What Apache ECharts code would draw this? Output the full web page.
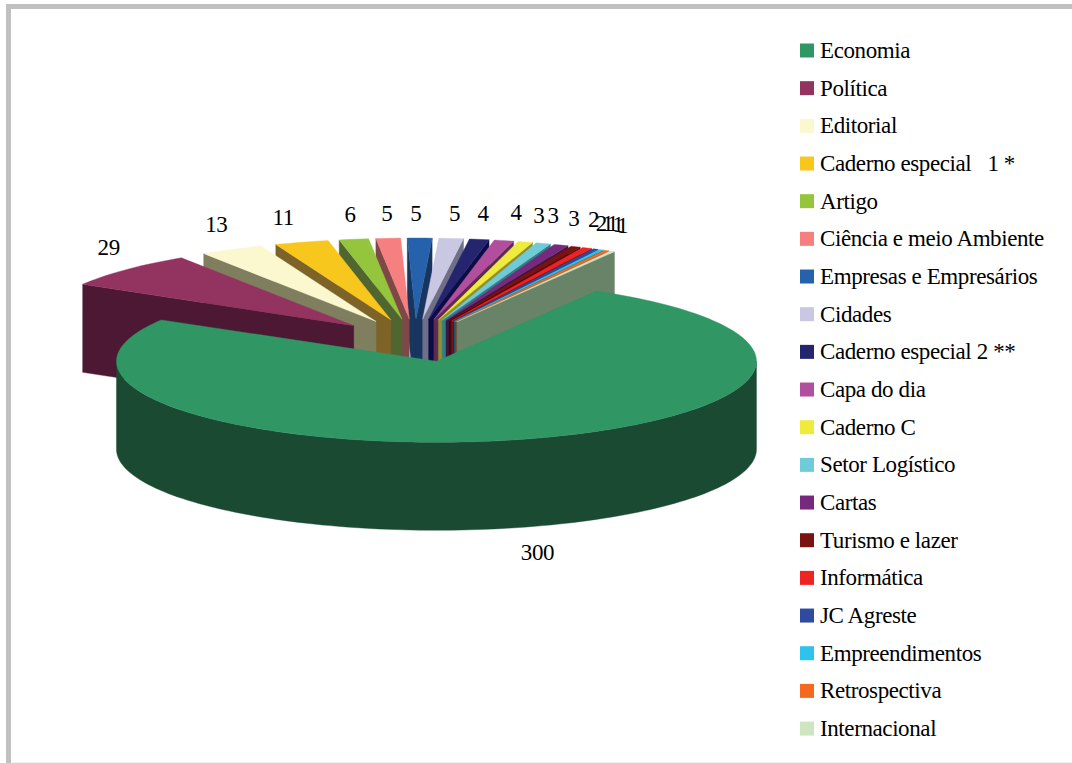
<!DOCTYPE html>
<html>
<head>
<meta charset="utf-8">
<style>
  html, body { margin: 0; padding: 0; background: #fff; }
  #chart { width: 1072px; height: 763px; letter-spacing: -0.4px; }
</style>
<script src="https://cdn.jsdelivr.net/npm/echarts@6/dist/echarts.min.js"></script>
</head>
<body>
<div id="chart"></div>
<script>
// Newspaper sections and number of articles per section
const categories = ['Economia', 'Política', 'Editorial', 'Caderno especial   1 *', 'Artigo',
  'Ciência e meio Ambiente', 'Empresas e Empresários', 'Cidades', 'Caderno especial 2 **',
  'Capa do dia', 'Caderno C', 'Setor Logístico', 'Cartas', 'Turismo e lazer', 'Informática',
  'JC Agreste', 'Empreendimentos', 'Retrospectiva', 'Internacional'];
const values = [300, 29, 13, 11, 6, 5, 5, 5, 4, 4, 3, 3, 3, 2, 2, 1, 1, 1, 1];

const topColors = ['#2f9664', '#93335f', '#fbf7cf', '#f7c71e', '#94c53c', '#f67f7f', '#2662ab',
  '#c9c7e2', '#24246f', '#b14f9e', '#efeb3c', '#6fcbd8', '#772a7d', '#7a1212', '#ef2224',
  '#2f4a9e', '#2fc2ee', '#f5681f', '#cde6c0'];
const sideColors = ['#1a4a32', '#4d1833', '#7f7f60', '#7d6327', '#4f6630', '#7f4848', '#17355f',
  '#6f6f88', '#0a0e45', '#5e2a55', '#8f8f2f', '#2f7f88', '#3f1642', '#420a0a', '#7f1213',
  '#192855', '#1a6a82', '#833810', '#688368'];

// Value label nudges relative to each slice's outer rim
const labelDx = [20, -14, -13, -17, -3, -1, -4, 3, 3, 11, 12, 8, 11, 16, 12, 10, 9, 9, 8];
const labelDy = [113, -22, -25, -25, -25, -25, -25, -25, -26, -28, -27, -28, -27, -27, -25, -26, -26, -26, -26];

// Projection of the tilted pie; the slices further back read slightly narrower
const CX = 415, CY = 340.5, RX = 320, RY = 81, DEPTH = 88, EXPLODE = 0.265, FIRST_ANGLE = 30, BACK_RIM = 0.985;

const total = values.reduce((a, b) => a + b, 0);
const rad = d => d * Math.PI / 180;
const starts = [];
values.reduce((acc, v, i) => { starts[i] = acc; return acc + v / total * 360; }, FIRST_ANGLE);

// Angles run clockwise from the back of the pie
const project = (ox, oy, r, deg, drop) => [
  ox + r * RX * Math.sin(rad(deg)),
  oy - r * RY * Math.cos(rad(deg)) + drop
];

function sliceGraphic(i, value) {
  const a0 = starts[i], a1 = a0 + value / total * 360, mid = (a0 + a1) / 2;
  const [ox, oy] = project(CX, CY, EXPLODE, mid, 0);
  const children = [];
  const side = sideColors[i];
  const rim = a1 - a0 < 180 ? BACK_RIM : 1;
  const rimPoint = (deg, drop) => {
    const p = project(ox, oy, 1, deg, drop);
    return [ox + (p[0] - ox) * rim, p[1]];
  };
  const add = (points, fill) => children.push({
    type: 'polygon', shape: { points }, style: { fill, stroke: fill, lineWidth: 0.4 }
  });
  const arc = (from, to, drop) => {
    const steps = Math.max(2, Math.ceil(Math.abs(to - from) / 1.5));
    const out = [];
    for (let s = 0; s <= steps; s++) out.push(rimPoint(from + (to - from) * s / steps, drop));
    return out;
  };
  const cutFace = deg => add([[ox, oy], rimPoint(deg, 0), rimPoint(deg, DEPTH), [ox, oy + DEPTH]], side);

  // Radial cut faces turned towards the viewer
  if (Math.sin(rad(a0)) < 0 && a1 - a0 < 180) cutFace(a0);
  if (Math.sin(rad(a1)) > 0 && a1 - a0 < 180) cutFace(a1);

  // Outer wall on the front half of the rim
  const wallFrom = Math.max(a0, 90), wallTo = Math.min(a1, 270);
  if (wallTo > wallFrom) add(arc(wallFrom, wallTo, 0).concat(arc(wallTo, wallFrom, DEPTH)), side);

  // Top face
  add([[ox, oy]].concat(arc(a0, a1, 0)), topColors[i]);

  // Value label
  const [lx, ly] = project(CX, CY, 1 + EXPLODE, mid, 0);
  children.push({
    type: 'text',
    z2: 50,
    style: {
      x: lx + labelDx[i], y: ly + labelDy[i], text: String(value),
      fill: '#000', font: '23px "Liberation Serif"', align: 'center', verticalAlign: 'middle'
    }
  });
  return { type: 'group', children };
}

// Paint from the back of the pie towards the viewer
const paintOrder = values.map((_, i) => i).sort((a, b) =>
  Math.cos(rad(starts[b] + values[b] / total * 180)) - Math.cos(rad(starts[a] + values[a] / total * 180)));

const chart = echarts.init(document.getElementById('chart'), null, { renderer: 'svg' });
chart.setOption({
  animation: false,
  backgroundColor: '#fff',
  graphic: [
    { type: 'rect', silent: true, shape: { x: 6, y: 4, width: 1066, height: 5 }, style: { fill: '#c0c0c0' } },
    { type: 'rect', silent: true, shape: { x: 6, y: 4, width: 5, height: 759 }, style: { fill: '#c0c0c0' } },
    { type: 'rect', silent: true, shape: { x: 12, y: 762, width: 1060, height: 1 }, style: { fill: '#eeeeee' } }
  ],
  legend: {
    orient: 'vertical', left: 795, top: 34, itemWidth: 14, itemHeight: 14, itemGap: 14.67,
    icon: 'rect', selectedMode: false, data: categories,
    textStyle: { color: '#000', fontFamily: 'Liberation Serif', fontSize: 23, padding: [0, 0, 0, 1] }
  },
  series: paintOrder.map(i => ({
    type: 'custom',
    name: categories[i],
    coordinateSystem: 'none',
    silent: true,
    itemStyle: { color: topColors[i] },
    data: [[values[i]]],
    renderItem: (params, api) => sliceGraphic(i, api.value(0))
  }))
});
</script>
</body>
</html>
